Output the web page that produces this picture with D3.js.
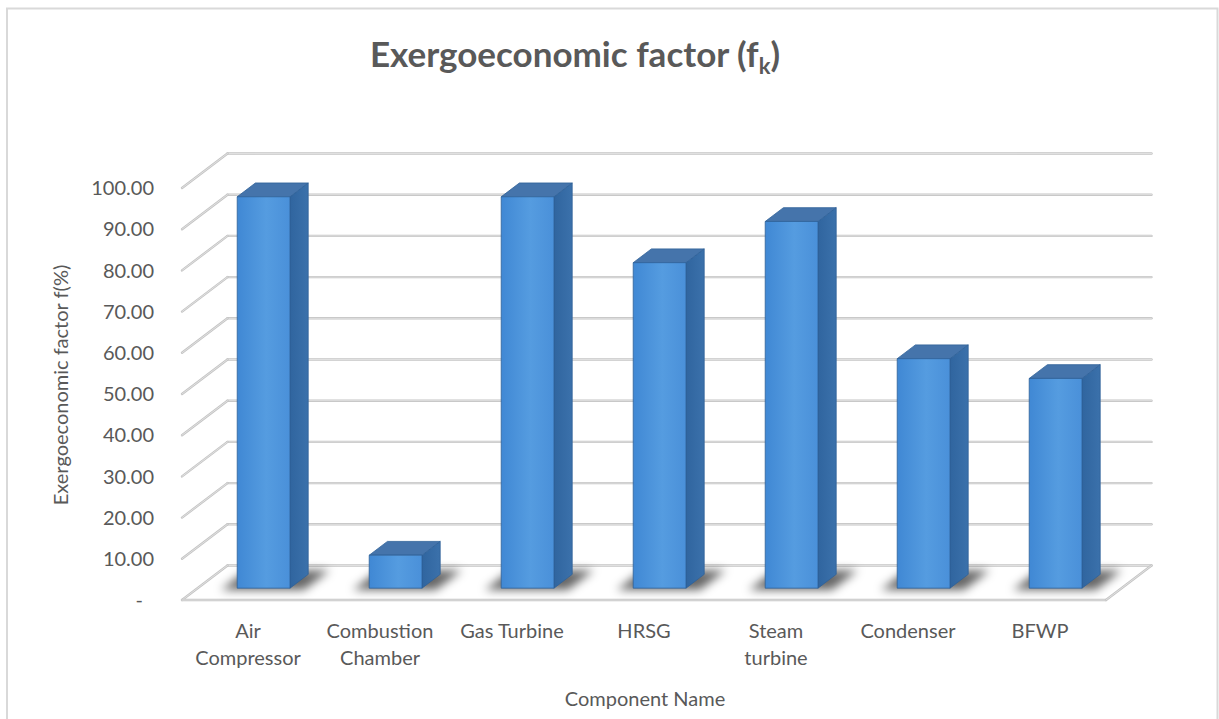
<!DOCTYPE html>
<html>
<head>
<meta charset="utf-8">
<script src="https://cdn.jsdelivr.net/npm/d3@7/dist/d3.min.js"></script>
<style>
  html, body { margin: 0; padding: 0; background: #fff; }
  svg { display: block; font-family: Lato, "Open Sans", sans-serif; }
</style>
</head>
<body>
<svg id="chart" width="1219" height="719"></svg>
<script>
// Exergoeconomic factor per plant component (%)
const categories = ["Air Compressor", "Combustion Chamber", "Gas Turbine", "HRSG", "Steam turbine", "Condenser", "BFWP"];
const values = [95.0, 8.0, 95.0, 79.0, 89.0, 55.7, 50.9];
const yTicks = [0, 10, 20, 30, 40, 50, 60, 70, 80, 90, 100];
const titleMain = "Exergoeconomic factor (f";
const titleSub = "k";
const titleEnd = ")";
const yAxisTitle = "Exergoeconomic factor f(%)";
const xAxisTitle = "Component Name";

const svg = d3.select("#chart");
const textColor = "#595959";

// oblique depth projection of the 3-D plot box
const DX = 45.5, DY = 34.5;
const x = d3.scaleBand().domain(categories).range([182, 1106]).paddingInner(0.6).paddingOuter(0.3);
const y = d3.scaleLinear().domain([0, 100]).range([600, 188]);
const P = (px, v, d) => [px + DX * d, y(v) - DY * d];
const x0 = x.range()[0], x1 = x.range()[1];

// chart border
svg.append("rect").attr("x", 7).attr("y", 8.5).attr("width", 1210.5).attr("height", 740)
  .attr("fill", "none").attr("stroke", "#d9d9d9").attr("stroke-width", 2);

const defs = svg.append("defs");
const front = defs.append("linearGradient").attr("id", "front");
front.append("stop").attr("offset", "0%").attr("stop-color", "#4088d4");
front.append("stop").attr("offset", "55%").attr("stop-color", "#559ce0");
front.append("stop").attr("offset", "100%").attr("stop-color", "#4a90d9");
const side = defs.append("linearGradient").attr("id", "side");
side.append("stop").attr("offset", "0%").attr("stop-color", "#30659f");
side.append("stop").attr("offset", "100%").attr("stop-color", "#3b71ab");
defs.append("filter").attr("id", "soft").attr("x", "-50%").attr("y", "-50%").attr("width", "200%").attr("height", "200%")
  .append("feGaussianBlur").attr("stdDeviation", 5);

// gridlines: back wall, side wall, floor
const grid = svg.append("g").attr("fill", "none").attr("stroke-linecap", "round");
function gridLine(a, b) {
  grid.append("line").attr("x1", a[0]).attr("y1", a[1]).attr("x2", b[0]).attr("y2", b[1])
    .attr("stroke", "#c4c4c4").attr("stroke-width", 2.4);
  grid.append("line").attr("x1", a[0]).attr("y1", a[1]).attr("x2", b[0]).attr("y2", b[1])
    .attr("stroke", "#ececec").attr("stroke-width", 0.7);
}
yTicks.forEach(t => {
  gridLine(P(x0, t, 1), P(x1, t, 1));
  gridLine(P(x0, t, 0), P(x0, t, 1));
});
gridLine(P(x0, 0, 0), P(x1, 0, 0));
gridLine(P(x1, 0, 0), P(x1, 0, 1));

// y tick labels
const fmt = d3.format(".2f");
svg.append("g").selectAll("text").data(yTicks).join("text")
  .attr("x", t => t === 0 ? 143 : 154)
  .attr("y", t => y(t))
  .attr("dy", "0.36em")
  .attr("text-anchor", "end")
  .attr("font-size", 20)
  .attr("fill", textColor)
  .text(t => t === 0 ? "-" : fmt(t));

// columns
const d0 = 0.343, d1 = 0.743;
const bw = x.bandwidth();
const pts = a => a.map(p => p.join(",")).join(" ");

const shadows = svg.append("g").attr("filter", "url(#soft)");
categories.forEach((c, i) => {
  const xl = x(c) - 14, xr = x(c) + bw + 16;
  shadows.append("polygon")
    .attr("points", pts([P(xl, 0, d0 - 0.05), P(xr, 0, d0 - 0.05), P(xr, 0, d1 + 0.12), P(xl, 0, d1 + 0.12)]))
    .attr("fill", "#000").attr("opacity", 0.6);
});

const bars = svg.append("g").attr("stroke", "#2f6198").attr("stroke-width", 0.8).attr("stroke-linejoin", "round");
categories.forEach((c, i) => {
  const v = values[i];
  const xl = x(c), xr = x(c) + bw;
  // right side face
  bars.append("polygon")
    .attr("points", pts([P(xr, 0, d0), P(xr, 0, d1), P(xr, v, d1), P(xr, v, d0)]))
    .attr("fill", "url(#side)");
  // top face
  bars.append("polygon")
    .attr("points", pts([P(xl, v, d0), P(xr, v, d0), P(xr, v, d1), P(xl, v, d1)]))
    .attr("fill", "#4574ab");
  // front face
  const a = P(xl, v, d0), b = P(xr, 0, d0);
  bars.append("rect")
    .attr("x", a[0]).attr("y", a[1]).attr("width", b[0] - a[0]).attr("height", b[1] - a[1])
    .attr("fill", "url(#front)");
});

// category labels, wrapped to the band width
const catG = svg.append("g").attr("font-size", 20).attr("fill", textColor).attr("text-anchor", "middle");
categories.forEach(c => {
  const cx = x(c) + bw / 2;
  const t = catG.append("text").attr("x", cx).attr("y", 638);
  t.text(c);
  let lines = [c];
  if (t.node().getComputedTextLength() > x.step() - 10 && c.includes(" ")) {
    const k = c.indexOf(" ");
    lines = [c.slice(0, k), c.slice(k + 1)];
  }
  t.text(null);
  lines.forEach((l, j) => t.append("tspan").attr("x", cx).attr("y", 638 + j * 27).text(l));
});

// axis titles
svg.append("text").attr("transform", "translate(68,385) rotate(-90)")
  .attr("text-anchor", "middle").attr("font-size", 20).attr("fill", textColor).text(yAxisTitle);
svg.append("text").attr("x", 645).attr("y", 706)
  .attr("text-anchor", "middle").attr("font-size", 20).attr("fill", textColor).text(xAxisTitle);

// chart title with subscript
const title = svg.append("text").attr("x", 575).attr("y", 67).attr("text-anchor", "middle")
  .attr("font-size", 35).attr("font-weight", "bold").attr("fill", textColor);
title.append("tspan").text(titleMain);
title.append("tspan").attr("font-size", 22).attr("dy", 7).text(titleSub);
title.append("tspan").attr("dy", -7).text(titleEnd);
</script>
</body>
</html>
